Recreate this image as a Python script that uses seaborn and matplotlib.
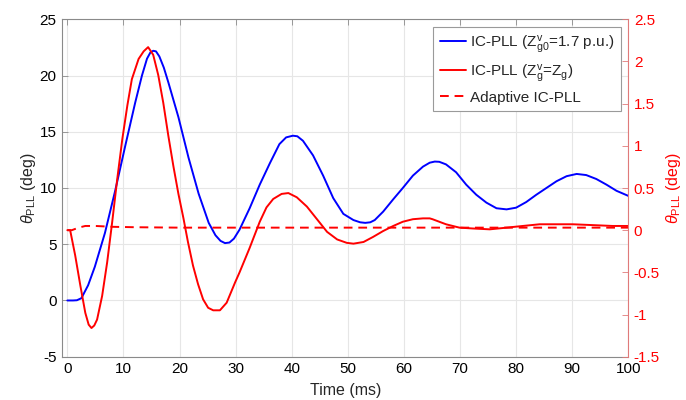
import matplotlib
matplotlib.use("Agg")
import matplotlib.pyplot as plt
import seaborn as sns
import numpy as np
from matplotlib.lines import Line2D

# ---------------- data ----------------
t_blue = [0, 1, 1.7, 2.5, 3.7, 4.9, 6.7, 8.5, 10.3, 12.1, 13.3, 14.2, 14.8, 15.3, 15.8,
          16.4, 17.2, 18.0, 19.8, 21.6, 23.4, 25.2, 26.4, 27.3, 28.1, 28.9, 29.7,
          30.7, 32.5, 34.3, 36.1, 37.8, 39.0, 40.2, 41.0, 42.0, 43.8, 45.6, 47.4,
          49.2, 51.0, 52.2, 53.1, 54.0, 54.8, 56.3, 58.1, 59.8, 61.6, 63.4, 64.6,
          65.5, 66.3, 67.5, 69.3, 71.1, 72.9, 74.7, 76.5, 78.3, 80.0, 81.8, 83.6,
          85.4, 87.2, 89.0, 90.8, 92.5, 94.3, 96.1, 97.9, 100]
v_blue = [0, 0, 0.02, 0.2, 1.35, 3.0, 6.0, 9.7, 13.7, 17.6, 20.0, 21.5, 22.05, 22.2, 22.15,
          21.7, 20.7, 19.4, 16.3, 12.7, 9.5, 6.9, 5.8, 5.3, 5.1, 5.15, 5.5,
          6.3, 8.2, 10.3, 12.2, 13.9, 14.5, 14.65, 14.6, 14.2, 12.9, 11.1, 9.1,
          7.7, 7.15, 6.95, 6.9, 6.95, 7.15, 7.9, 9.0, 10.0, 11.1, 11.9, 12.25,
          12.35, 12.33, 12.1, 11.4, 10.3, 9.4, 8.7, 8.2, 8.1, 8.25, 8.75, 9.4,
          10.0, 10.6, 11.05, 11.25, 11.15, 10.8, 10.3, 9.75, 9.3]

t_red = [0, 0.5, 1.4, 2.3, 3.2, 3.8, 4.3, 4.8, 5.3, 6.2, 7.1, 8.0, 8.9, 9.8, 10.7, 11.5,
         12.7, 13.6, 14.4, 15.3, 16.2, 17.1, 18.0, 18.9, 19.8, 20.7, 21.5, 22.4,
         23.3, 24.2, 25.1, 26.0, 27.2, 28.4, 29.9, 30.7, 32.5, 34.3, 35.5, 36.7,
         38.2, 39.4, 40.9, 42.7, 44.5, 46.3, 48.1, 49.8, 51.0, 52.8, 54.5, 56.3,
         58.1, 59.8, 61.6, 63.4, 64.6, 65.1, 67.5, 69.9, 72.3, 75.3, 78.3, 81.2,
         84.2, 87.2, 90.1, 93.7, 97.2, 100]
v_red = [0, 0, -0.3, -0.65, -0.98, -1.12, -1.16, -1.13, -1.06, -0.78, -0.38, 0.1, 0.61, 1.08, 1.48, 1.79,
         2.03, 2.12, 2.17, 2.08, 1.84, 1.51, 1.12, 0.76, 0.43, 0.14, -0.14, -0.42,
         -0.64, -0.82, -0.92, -0.95, -0.95, -0.86, -0.62, -0.5, -0.21, 0.1, 0.27, 0.37,
         0.43, 0.44, 0.39, 0.28, 0.13, -0.02, -0.11, -0.15, -0.16, -0.14, -0.08, -0.01,
         0.05, 0.1, 0.13, 0.14, 0.14, 0.13, 0.07, 0.03, 0.02, 0.01, 0.03, 0.05,
         0.07, 0.07, 0.07, 0.06, 0.05, 0.05]

t_adapt = [0, 0.8, 2.0, 3.2, 5.0, 8.0, 12.0, 20.0, 100]
v_adapt = [0, 0, 0.03, 0.05, 0.05, 0.04, 0.035, 0.03, 0.03]

x_ticks = [0, 10, 20, 30, 40, 50, 60, 70, 80, 90, 100]
yl_ticks = [-5, 0, 5, 10, 15, 20, 25]
yr_ticks = [-1.5, -1, -0.5, 0, 0.5, 1, 1.5, 2, 2.5]
yr_labels = ["-1.5", "-1", "-0.5", "0", "0.5", "1", "1.5", "2", "2.5"]

labels = [r"IC-PLL ($\mathrm{Z}^{\mathrm{v}}_{\mathrm{g0}}$=1.7 p.u.)",
          r"IC-PLL ($\mathrm{Z}^{\mathrm{v}}_{\mathrm{g}}$=$\mathrm{Z}_{\mathrm{g}}$)",
          "Adaptive IC-PLL"]

# ---------------- style ----------------
sns.set_style("white")
plt.rcParams["font.family"] = ["Liberation Sans", "DejaVu Sans"]
plt.rcParams["mathtext.fontset"] = "custom"
plt.rcParams["mathtext.rm"] = "Liberation Sans"
plt.rcParams["mathtext.it"] = "Liberation Sans:italic"
plt.rcParams["mathtext.bf"] = "Liberation Sans:bold"
plt.rcParams["axes.unicode_minus"] = False

FS = 11
grey = "#8a8a8a"
red_sp = "#e07a7a"

fig = plt.figure(figsize=(6.86, 4.0), dpi=100)
ax1 = fig.add_axes([62.3 / 686, 1 - 356.7 / 400, (628.3 - 62.3) / 686, (356.7 - 19.3) / 400])
ax2 = ax1.twinx()

lw = 1.4
sns.lineplot(x=t_blue, y=v_blue, ax=ax1, color="blue", lw=lw, legend=False)
sns.lineplot(x=t_red, y=v_red, ax=ax2, color="red", lw=lw, legend=False)
sns.lineplot(x=t_adapt, y=v_adapt, ax=ax2, color="red", lw=lw, legend=False,
             linestyle=(0, (4.5, 3)))

ax1.set_xlim(-0.9, 100)
ax1.set_ylim(-5, 25)
ax2.set_ylim(-1.5, 2.5)

ax1.set_xticks(x_ticks)
ax1.set_xticklabels([str(v) for v in x_ticks])
ax1.set_yticks(yl_ticks)
ax1.set_yticklabels([str(v) for v in yl_ticks])
ax2.set_yticks(yr_ticks)
ax2.set_yticklabels(yr_labels)

ax1.grid(True, color="#e6e6e6", lw=0.8)
ax1.set_axisbelow(True)
ax2.grid(False)

ax1.tick_params(axis="both", direction="in", length=4, width=0.6, colors="black",
                labelsize=FS, top=True, right=False, pad=4)
ax1.tick_params(axis="x", color=grey)
ax1.tick_params(axis="y", color=grey)
ax2.tick_params(axis="y", direction="in", length=4, width=0.6, color=red_sp,
                labelcolor="red", labelsize=FS, pad=4)

for s in ["left", "top", "bottom"]:
    ax1.spines[s].set_color(grey)
    ax1.spines[s].set_linewidth(0.8)
ax1.spines["right"].set_visible(False)
for s in ["left", "top", "bottom"]:
    ax2.spines[s].set_visible(False)
ax2.spines["right"].set_color(red_sp)
ax2.spines["right"].set_linewidth(0.8)

ax1.set_xlabel("Time (ms)", fontsize=FS + 0.5)
ax1.xaxis.set_label_coords(0.5, -0.078)
ax1.set_ylabel(r"$\mathit{\theta}_{\mathrm{PLL}}$ (deg)", fontsize=FS + 0.5)
ax1.yaxis.set_label_coords(-0.043, 0.5)
ax2.set_ylabel(r"$\mathit{\theta}_{\mathrm{PLL}}$ (deg)", fontsize=FS + 0.5, color="red")
ax2.yaxis.set_label_coords(1.063, 0.5)

handles = [Line2D([], [], color="blue", lw=lw),
           Line2D([], [], color="red", lw=lw),
           Line2D([], [], color="red", lw=lw, linestyle=(0, (4.5, 3)))]
leg = ax2.legend(handles, labels, loc="upper right", fontsize=FS, frameon=True,
                 fancybox=False, framealpha=1, edgecolor="#9a9a9a",
                 handlelength=1.7, handletextpad=0.3, borderpad=0.4,
                 labelspacing=0.45, borderaxespad=0.5)
leg.get_frame().set_linewidth(0.8)

fig.savefig("out.png", dpi=100)
